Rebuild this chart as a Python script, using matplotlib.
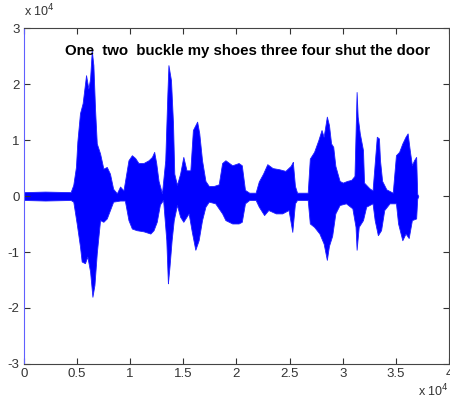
import numpy as np
import matplotlib
matplotlib.use("Agg")
import matplotlib.pyplot as plt

# waveform envelope (x in 1e4 samples, amplitude in 1e4)
upper_x = [0.00, 0.20, 0.44, 0.465, 0.49, 0.503, 0.528, 0.553, 0.585, 0.607, 0.623, 0.639,
           0.654, 0.67, 0.686, 0.717, 0.748, 0.78, 0.81, 0.84, 0.875, 0.905, 0.937,
           0.984, 1.016, 1.047, 1.078, 1.125, 1.173, 1.205, 1.226, 1.245, 1.267, 1.299,
           1.33, 1.35, 1.36, 1.384, 1.403, 1.415, 1.44, 1.47, 1.50, 1.53, 1.566, 1.59,
           1.63, 1.65, 1.676, 1.708, 1.74, 1.786, 1.833, 1.865, 1.896, 1.96, 2.02, 2.05,
           2.08, 2.12, 2.18, 2.21, 2.25, 2.29, 2.34, 2.40, 2.46, 2.51, 2.53, 2.55, 2.57,
           2.67, 2.69, 2.73, 2.77, 2.80, 2.82, 2.85, 2.87, 2.89, 2.91, 2.93, 2.97, 3.00,
           3.04, 3.08, 3.11, 3.13, 3.14, 3.16, 3.19, 3.20, 3.25, 3.28, 3.30, 3.32, 3.34,
           3.35, 3.37, 3.41, 3.47, 3.50, 3.53, 3.56, 3.59, 3.61, 3.63, 3.65, 3.67, 3.69,
           3.70, 3.71]
upper_y = [0.07, 0.08, 0.07, 0.20, 0.52, 0.97, 1.48, 1.66, 2.16, 1.92, 2.10, 2.60,
           2.34, 1.54, 0.94, 0.76, 0.49, 0.52, 0.40, 0.13, 0.05, 0.17, 0.10,
           0.64, 0.73, 0.68, 0.59, 0.59, 0.64, 0.70, 0.79, 0.59, 0.27, 0.05,
           0.64, 1.83, 2.34, 2.07, 1.30, 0.40, 0.20, 0.40, 0.70, 0.46, 0.46, 1.18,
           1.33, 1.12, 0.64, 0.27, 0.18, 0.18, 0.21, 0.59, 0.64, 0.55, 0.59, 0.55,
           0.11, 0.06, 0.06, 0.26, 0.40, 0.57, 0.50, 0.48, 0.45, 0.54, 0.61, 0.18, 0.06,
           0.06, 0.67, 0.79, 1.00, 1.18, 1.06, 1.42, 1.27, 0.94, 0.88, 0.54, 0.27, 0.24,
           0.27, 0.29, 0.36, 1.86, 1.42, 1.12, 0.82, 0.24, 0.14, 0.10, 0.58, 1.06, 1.03,
           0.64, 0.27, 0.12, 0.06, 0.73, 0.79, 0.94, 1.06, 1.12, 0.82, 0.55, 0.64, 0.70,
           0.04, 0.00]

lower_x = [0.00, 0.20, 0.44, 0.465, 0.497, 0.528, 0.544, 0.575, 0.597, 0.623, 0.645, 0.664,
           0.686, 0.717, 0.748, 0.78, 0.81, 0.84, 0.905, 0.95, 0.984, 1.016, 1.06, 1.125,
           1.19, 1.22, 1.25, 1.28, 1.31, 1.34, 1.355, 1.37, 1.39, 1.41, 1.44, 1.47, 1.50,
           1.55, 1.58, 1.613, 1.644, 1.676, 1.708, 1.74, 1.80, 1.865, 1.896, 1.96, 2.02,
           2.05, 2.08, 2.12, 2.18, 2.21, 2.26, 2.30, 2.37, 2.43, 2.49, 2.525, 2.55, 2.57,
           2.67, 2.69, 2.73, 2.78, 2.82, 2.85, 2.87, 2.90, 2.93, 2.97, 3.03, 3.09, 3.12,
           3.13, 3.15, 3.19, 3.22, 3.28, 3.30, 3.33, 3.36, 3.39, 3.44, 3.50, 3.52, 3.56,
           3.59, 3.62, 3.65, 3.69, 3.70, 3.71]
lower_y = [-0.07, -0.08, -0.07, -0.10, -0.49, -0.90, -1.17, -1.20, -1.08, -1.35, -1.80, -1.59,
           -1.02, -0.43, -0.46, -0.40, -0.25, -0.10, -0.08, -0.08, -0.43, -0.58, -0.61, -0.63,
           -0.67, -0.61, -0.46, -0.15, -0.07, -0.79, -1.56, -1.26, -0.79, -0.43, -0.16, -0.37, -0.46,
           -0.31, -0.64, -0.96, -0.79, -0.43, -0.19, -0.10, -0.13, -0.31, -0.43, -0.49, -0.49,
           -0.46, -0.13, -0.07, -0.07, -0.19, -0.34, -0.25, -0.31, -0.31, -0.25, -0.64, -0.13, -0.07,
           -0.07, -0.49, -0.55, -0.67, -0.85, -1.14, -0.89, -0.71, -0.31, -0.16, -0.13, -0.22, -0.55,
           -0.96, -0.55, -0.43, -0.19, -0.13, -0.43, -0.70, -0.61, -0.25, -0.13, -0.13, -0.49, -0.79,
           -0.67, -0.75, -0.43, -0.40, -0.05, 0.00]

xticks = [0, 0.5, 1, 1.5, 2, 2.5, 3, 3.5, 4]
xticklabels = ['0', '0.5', '1', '1.5', '2', '2.5', '3', '3.5', '4']
yticks = [-3, -2, -1, 0, 1, 2, 3]
yticklabels = ['-3', '-2', '-1', '0', '1', '2', '3']
title = 'One  two  buckle my shoes three four shut the door'

plt.rcParams['font.family'] = ['Liberation Sans', 'DejaVu Sans']

fig = plt.figure(figsize=(4.5, 4.03), dpi=100)
ax = fig.add_axes([0.053, 0.097, 0.945, 0.833])

grid_x = np.union1d(upper_x, lower_x)
up = np.interp(grid_x, upper_x, upper_y)
lo = np.interp(grid_x, lower_x, lower_y)
ax.fill_between(grid_x, lo, up, color='#0000ff', linewidth=0.6, edgecolor='#2020ff')

ax.set_xlim(0, 4)
ax.set_ylim(-3, 3)
ax.set_xticks(xticks)
ax.set_xticklabels(xticklabels)
ax.set_yticks(yticks)
ax.set_yticklabels(yticklabels)
ax.tick_params(direction='in', length=4, width=0.8, top=True, right=True,
               labelsize=9.5, colors='#333333', pad=3)
for s in ax.spines.values():
    s.set_color('#444444')
    s.set_linewidth(0.8)
ax.spines['left'].set_color('#6060ff')

ax.text(0.39, 2.59, title, fontsize=10.8, fontweight='bold', va='center', ha='left')

fig.text(0.053, 0.953, r'x 10$^{4}$', fontsize=9, color='#333333', ha='left', va='bottom')
fig.text(0.928, 0.008, r'x 10$^{4}$', fontsize=9, color='#333333', ha='left', va='bottom')

fig.savefig('out.png', dpi=100)
